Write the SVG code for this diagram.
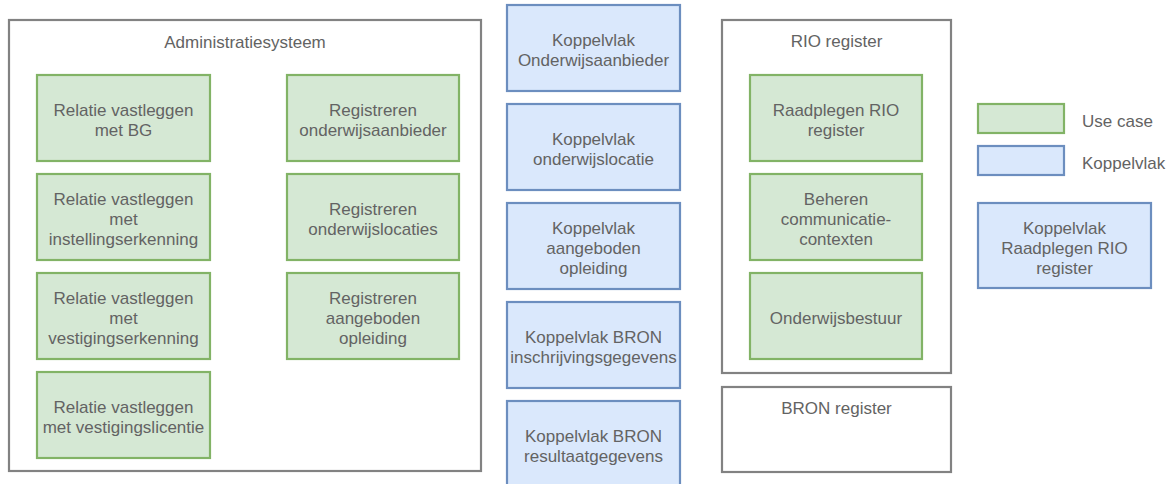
<svg xmlns="http://www.w3.org/2000/svg" width="1170" height="484" viewBox="0 0 1170 484">
<style>
.c{fill:#ffffff;stroke:#828282;stroke-width:2.2}
.u{fill:#d5e8d4;stroke:#82b366;stroke-width:2.2}
.k{fill:#dae8fc;stroke:#6c8ebf;stroke-width:2.2}
text{font-family:"Liberation Sans",Arial,Helvetica,sans-serif;font-size:17px;fill:#636363;text-anchor:middle}
.l{text-anchor:start}
</style>
<rect width="1170" height="484" fill="#ffffff"/>
<g id="administratiesysteem">
<rect class="c" x="9" y="20" width="472" height="451"/>
<text x="245" y="48">Administratiesysteem</text>
</g>
<g id="uc-relatie-bg"><rect class="u" x="37" y="75" width="173" height="86"/><text x="123.5" y="116">Relatie vastleggen</text><text x="123.5" y="136">met BG</text></g>
<g id="uc-relatie-instelling"><rect class="u" x="37" y="174" width="173" height="86"/><text x="123.5" y="205">Relatie vastleggen</text><text x="123.5" y="225">met</text><text x="123.5" y="245">instellingserkenning</text></g>
<g id="uc-relatie-vestiging"><rect class="u" x="37" y="273" width="173" height="86"/><text x="123.5" y="304">Relatie vastleggen</text><text x="123.5" y="324">met</text><text x="123.5" y="344">vestigingserkenning</text></g>
<g id="uc-relatie-licentie"><rect class="u" x="37" y="372" width="173" height="86"/><text x="123.5" y="413">Relatie vastleggen</text><text x="123.5" y="433">met vestigingslicentie</text></g>
<g id="uc-reg-aanbieder"><rect class="u" x="287" y="75" width="172" height="86"/><text x="373" y="116">Registreren</text><text x="373" y="136">onderwijsaanbieder</text></g>
<g id="uc-reg-locaties"><rect class="u" x="287" y="174" width="172" height="86"/><text x="373" y="215">Registreren</text><text x="373" y="235">onderwijslocaties</text></g>
<g id="uc-reg-opleiding"><rect class="u" x="287" y="273" width="172" height="86"/><text x="373" y="304">Registreren</text><text x="373" y="324">aangeboden</text><text x="373" y="344">opleiding</text></g>
<g id="kv-onderwijsaanbieder"><rect class="k" x="507" y="5" width="173" height="86"/><text x="593.5" y="46">Koppelvlak</text><text x="593.5" y="66">Onderwijsaanbieder</text></g>
<g id="kv-onderwijslocatie"><rect class="k" x="507" y="104" width="173" height="86"/><text x="593.5" y="145">Koppelvlak</text><text x="593.5" y="165">onderwijslocatie</text></g>
<g id="kv-aangeboden-opleiding"><rect class="k" x="507" y="203" width="173" height="86"/><text x="593.5" y="234">Koppelvlak</text><text x="593.5" y="254">aangeboden</text><text x="593.5" y="274">opleiding</text></g>
<g id="kv-bron-inschrijving"><rect class="k" x="507" y="302" width="173" height="86"/><text x="593.5" y="343">Koppelvlak BRON</text><text x="593.5" y="363">inschrijvingsgegevens</text></g>
<g id="kv-bron-resultaat"><rect class="k" x="507" y="401" width="173" height="86"/><text x="593.5" y="442">Koppelvlak BRON</text><text x="593.5" y="462">resultaatgegevens</text></g>
<g id="rio-register">
<rect class="c" x="722" y="20" width="229" height="353"/>
<text x="836.5" y="47">RIO register</text>
</g>
<g id="uc-raadplegen-rio"><rect class="u" x="750" y="75" width="172" height="86"/><text x="836" y="116">Raadplegen RIO</text><text x="836" y="136">register</text></g>
<g id="uc-beheren-communicatie"><rect class="u" x="750" y="174" width="172" height="86"/><text x="836" y="205">Beheren</text><text x="836" y="225">communicatie-</text><text x="836" y="245">contexten</text></g>
<g id="uc-onderwijsbestuur"><rect class="u" x="750" y="273" width="172" height="86"/><text x="836" y="324">Onderwijsbestuur</text></g>
<g id="bron-register">
<rect class="c" x="722" y="387" width="229" height="85"/>
<text x="836.5" y="414">BRON register</text>
</g>
<g id="legend-usecase"><rect class="u" x="978" y="104" width="86" height="29"/><text class="l" x="1082" y="127">Use case</text></g>
<g id="legend-koppelvlak"><rect class="k" x="978" y="146" width="86" height="29"/><text class="l" x="1082" y="169">Koppelvlak</text></g>
<g id="kv-raadplegen-rio"><rect class="k" x="978" y="203" width="173" height="85"/><text x="1064.5" y="234">Koppelvlak</text><text x="1064.5" y="254">Raadplegen RIO</text><text x="1064.5" y="274">register</text></g>
<g id="connectors"></g>
</svg>
